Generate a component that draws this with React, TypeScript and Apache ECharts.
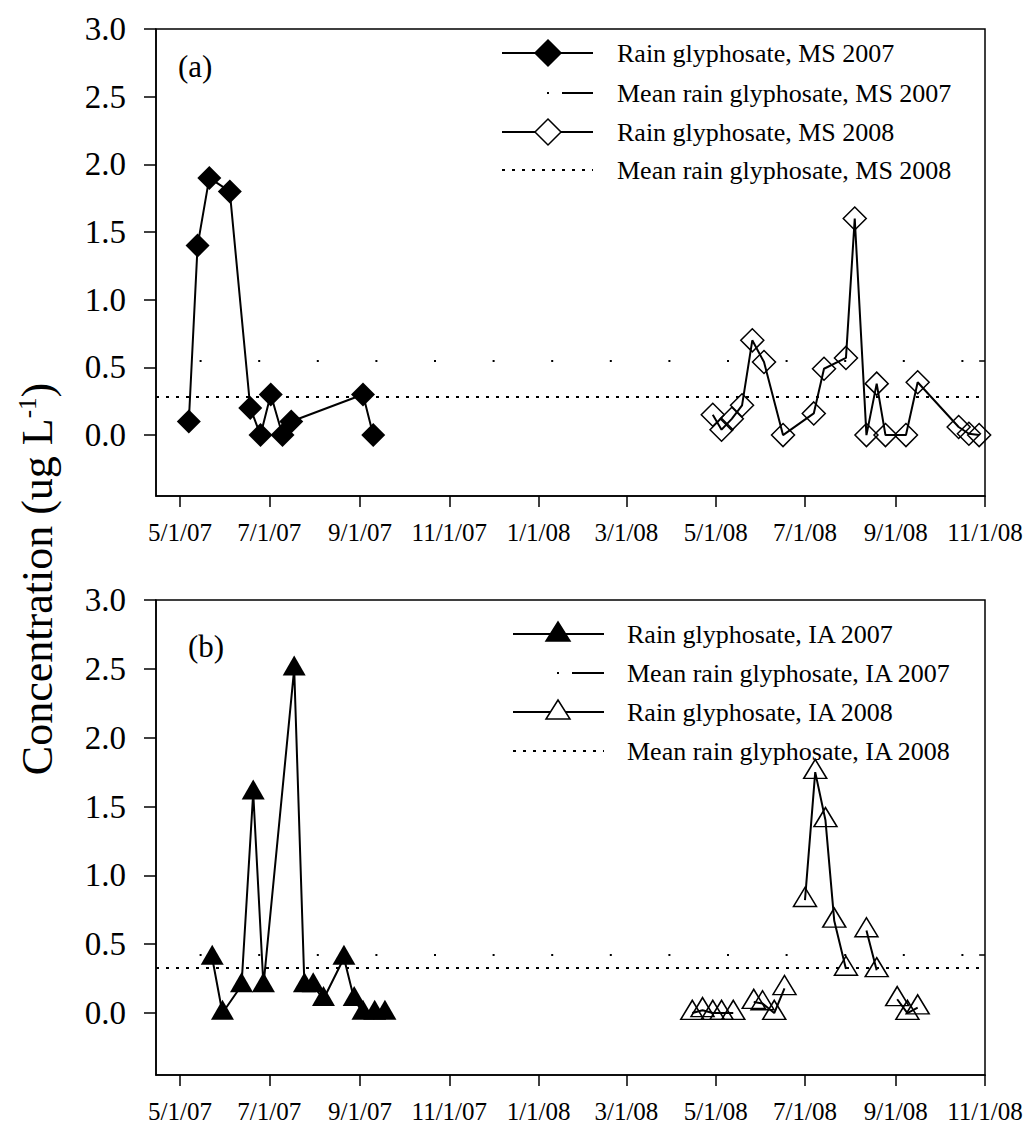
import React, { useEffect, useRef } from 'react';
import * as echarts from 'echarts';

// ---------- data ----------
const xTickDates = ['2007-05-01', '2007-07-01', '2007-09-01', '2007-11-01', '2008-01-01', '2008-03-01', '2008-05-01', '2008-07-01', '2008-09-01', '2008-11-01'];
const yTicks = [0, 0.5, 1.0, 1.5, 2.0, 2.5, 3.0];

const ms2007Dates = ['2007-05-07', '2007-05-13', '2007-05-21', '2007-06-04', '2007-06-18', '2007-06-25', '2007-07-02', '2007-07-10', '2007-07-16', '2007-09-03', '2007-09-10'];
const ms2007Values = [0.1, 1.4, 1.9, 1.8, 0.2, 0.0, 0.3, 0.0, 0.1, 0.3, 0.0];

const ms2008Dates = ['2008-04-29', '2008-05-05', '2008-05-12', '2008-05-19', '2008-05-26', '2008-06-03', '2008-06-16', '2008-07-07', '2008-07-14', '2008-07-29', '2008-08-04', '2008-08-12', '2008-08-19', '2008-08-25', '2008-09-08', '2008-09-16', '2008-10-14', '2008-10-21', '2008-10-28'];
const ms2008Values = [0.15, 0.04, 0.12, 0.22, 0.70, 0.54, 0.0, 0.16, 0.49, 0.57, 1.60, 0.0, 0.38, 0.0, 0.0, 0.39, 0.06, 0.01, 0.0];

const ia2007Dates = ['2007-05-23', '2007-05-30', '2007-06-12', '2007-06-20', '2007-06-27', '2007-07-18', '2007-07-25', '2007-07-31', '2007-08-07', '2007-08-21', '2007-08-28', '2007-09-03', '2007-09-11', '2007-09-18'];
const ia2007Values = [0.4, 0.0, 0.2, 1.6, 0.2, 2.5, 0.2, 0.2, 0.1, 0.4, 0.1, 0.0, 0.0, 0.0];

const ia2008Dates = ['2008-04-15', '2008-04-22', '2008-04-29', '2008-05-05', '2008-05-13', '2008-05-27', '2008-06-02', '2008-06-10', '2008-06-17', '2008-07-01', '2008-07-08', '2008-07-15', '2008-07-21', '2008-07-29', '2008-08-12', '2008-08-19', '2008-09-02', '2008-09-09', '2008-09-16'];
const ia2008Values = [0.0, 0.02, 0.0, 0.0, 0.0, 0.08, 0.07, 0.0, 0.18, 0.82, 1.75, 1.40, 0.67, 0.32, 0.60, 0.31, 0.10, 0.0, 0.04];
const ia2008Segments = [1, 1, 1, 1, 1, 2, 2, 2, 2, 3, 3, 3, 3, 3, 4, 4, 5, 5, 5];

const ms2007Mean = 0.55;
const ms2008Mean = 0.28;
const ia2007Mean = 0.42;
const ia2008Mean = 0.33;

const legendA = ['Rain glyphosate, MS 2007', 'Mean rain glyphosate, MS 2007', 'Rain glyphosate, MS 2008', 'Mean rain glyphosate, MS 2008'];
const legendB = ['Rain glyphosate, IA 2007', 'Mean rain glyphosate, IA 2007', 'Rain glyphosate, IA 2008', 'Mean rain glyphosate, IA 2008'];
const panelLabels = ['(a)', '(b)'];

// ---------- helpers ----------
const FONT = '"Liberation Serif", "Times New Roman", Times, serif';
const ts = (s: string) => {
  const [y, m, d] = s.split('-').map(Number);
  return Date.UTC(y, m - 1, d);
};
const X_MIN = Date.UTC(2007, 3, 14, 14);
const X_MAX = ts('2008-11-01');
const MEAN_END_START = ts('2008-10-28');
const xTicks = xTickDates.map(ts);

const fmtDate = (v: number) => {
  const d = new Date(v);
  return `${d.getUTCMonth() + 1}/${d.getUTCDate()}/${String(d.getUTCFullYear()).slice(2)}`;
};

const buildData = (dates: string[], values: number[], segments?: number[]) => {
  const out: any[] = [];
  dates.forEach((d, i) => {
    if (segments && i > 0 && segments[i] !== segments[i - 1]) out.push([ts(d), '-']);
    out.push([ts(d), values[i]]);
  });
  return out;
};

const xAxisFor = (gridIndex: number) => ({
  type: 'value',
  gridIndex,
  min: X_MIN,
  max: X_MAX,
  axisLine: { show: true, onZero: false, lineStyle: { color: '#000', width: 1.5 } },
  axisTick: { show: true, inside: false, length: 11, customValues: xTicks, lineStyle: { color: '#000', width: 1.5 } },
  axisLabel: { show: true, customValues: xTicks, formatter: fmtDate, fontFamily: FONT, fontSize: 25, color: '#000', margin: 24 },
  splitLine: { show: false },
});

const yAxisFor = (gridIndex: number) => ({
  type: 'value',
  gridIndex,
  min: -0.45,
  max: 3.0,
  axisLine: { show: true, onZero: false, lineStyle: { color: '#000', width: 1.5 } },
  axisTick: { show: true, inside: false, length: 12, customValues: yTicks, lineStyle: { color: '#000', width: 1.5 } },
  axisLabel: { show: true, customValues: yTicks, formatter: (v: number) => v.toFixed(1), fontFamily: FONT, fontSize: 33, color: '#000', margin: 30 },
  splitLine: { show: false },
});

const meanSparse = (value: number) => ({
  symbol: ['none', 'none'],
  silent: true,
  animation: false,
  label: { show: false },
  emphasis: { disabled: true },
  data: [
    { yAxis: value, lineStyle: { color: '#000', width: 2, type: [2, 56.6], dashOffset: 14.6 } },
    [
      { coord: [MEAN_END_START, value], lineStyle: { color: '#000', width: 1.5, type: 'solid' } },
      { coord: [X_MAX, value] },
    ],
  ],
});

const meanDotted = (value: number) => ({
  symbol: ['none', 'none'],
  silent: true,
  animation: false,
  label: { show: false },
  emphasis: { disabled: true },
  lineStyle: { color: '#000', width: 2, type: [3, 7] },
  data: [{ yAxis: value }],
});

const HOLLOW = 'rgba(255,255,255,0)';

const legendGraphics = (
  rows: number[],
  x1: number,
  x2: number,
  mx: number,
  tx: number,
  labels: string[],
  kind: 'diamond' | 'triangle'
) => {
  const els: any[] = [];
  const line = (y: number, extra: any = {}) => ({
    type: 'line',
    shape: { x1, y1: y, x2, y2: y },
    style: { stroke: '#000', lineWidth: 2, ...extra },
  });
  const marker = (y: number, filled: boolean) => {
    if (kind === 'diamond') {
      return {
        type: 'polygon',
        shape: { points: [[mx, y - 13], [mx + 13, y], [mx, y + 13], [mx - 13, y]] },
        style: { fill: filled ? '#000' : '#fff', stroke: '#000', lineWidth: 1.5 },
      };
    }
    return {
      type: 'polygon',
      shape: { points: [[mx, y - 12], [mx + 12, y + 7], [mx - 12, y + 7]] },
      style: { fill: filled ? '#000' : '#fff', stroke: '#000', lineWidth: 1.5 },
    };
  };
  els.push(line(rows[0]));
  els.push(marker(rows[0], true));
  els.push({ type: 'rect', shape: { x: mx - 1, y: rows[1] - 1, width: 2, height: 2 }, style: { fill: '#000' } });
  els.push({ type: 'line', shape: { x1: mx + 14, y1: rows[1], x2: x2, y2: rows[1] }, style: { stroke: '#000', lineWidth: 2 } });
  els.push(line(rows[2]));
  els.push(marker(rows[2], false));
  els.push(line(rows[3], { lineDash: [3, 7] }));
  labels.forEach((t, i) => {
    els.push({
      type: 'text',
      x: tx,
      y: rows[i],
      style: { text: t, fill: '#000', fontFamily: FONT, fontSize: 26, align: 'left', verticalAlign: 'middle' },
    });
  });
  return els;
};

export default function App() {
  const ref = useRef<HTMLDivElement>(null);

  useEffect(() => {
    if (!ref.current) return;
    const chart = echarts.init(ref.current, undefined, { renderer: 'svg' });

    const option: any = {
      animation: false,
      backgroundColor: '#fff',
      grid: [
        { left: 156, right: 43, top: 29, height: 467, show: true, borderColor: '#000', borderWidth: 1.5, backgroundColor: 'transparent' },
        { left: 156, right: 43, top: 600, height: 475, show: true, borderColor: '#000', borderWidth: 1.5, backgroundColor: 'transparent' },
      ],
      xAxis: [xAxisFor(0), xAxisFor(1)],
      yAxis: [yAxisFor(0), yAxisFor(1)],
      series: [
        {
          name: legendA[0],
          type: 'line',
          xAxisIndex: 0,
          yAxisIndex: 0,
          data: buildData(ms2007Dates, ms2007Values),
          symbol: 'diamond',
          symbolSize: 24,
          itemStyle: { color: '#000' },
          lineStyle: { color: '#000', width: 2 },
          emphasis: { disabled: true },
          markLine: meanSparse(ms2007Mean),
          z: 4,
        },
        {
          name: legendA[2],
          type: 'line',
          xAxisIndex: 0,
          yAxisIndex: 0,
          data: buildData(ms2008Dates, ms2008Values),
          symbol: 'diamond',
          symbolSize: 23,
          itemStyle: { color: HOLLOW, borderColor: '#000', borderWidth: 1.5 },
          lineStyle: { color: '#000', width: 2 },
          emphasis: { disabled: true },
          markLine: meanDotted(ms2008Mean),
          z: 3,
        },
        {
          name: legendB[0],
          type: 'line',
          xAxisIndex: 1,
          yAxisIndex: 1,
          data: buildData(ia2007Dates, ia2007Values),
          symbol: 'triangle',
          symbolSize: [23, 20],
          symbolOffset: [0, -3.3],
          itemStyle: { color: '#000' },
          lineStyle: { color: '#000', width: 2 },
          emphasis: { disabled: true },
          markLine: meanSparse(ia2007Mean),
          z: 4,
        },
        {
          name: legendB[2],
          type: 'line',
          xAxisIndex: 1,
          yAxisIndex: 1,
          data: buildData(ia2008Dates, ia2008Values, ia2008Segments),
          connectNulls: false,
          symbol: 'triangle',
          symbolSize: [23, 19],
          symbolOffset: [0, -3.2],
          itemStyle: { color: HOLLOW, borderColor: '#000', borderWidth: 1.5 },
          lineStyle: { color: '#000', width: 2 },
          emphasis: { disabled: true },
          markLine: meanDotted(ia2008Mean),
          z: 3,
        },
      ],
      graphic: [
        ...legendGraphics([53, 93, 132, 170], 502, 593, 548, 617, legendA, 'diamond'),
        ...legendGraphics([634, 673, 712, 751], 513, 604, 558, 627, legendB, 'triangle'),
        {
          type: 'text',
          x: 178,
          y: 66,
          style: { text: panelLabels[0], fill: '#000', fontFamily: FONT, fontSize: 31, align: 'left', verticalAlign: 'middle' },
        },
        {
          type: 'text',
          x: 188,
          y: 646,
          style: { text: panelLabels[1], fill: '#000', fontFamily: FONT, fontSize: 31, align: 'left', verticalAlign: 'middle' },
        },
        {
          type: 'text',
          x: 37,
          y: 579,
          rotation: Math.PI / 2,
          style: {
            text: '{m|Concentration (ug L}{s|-1}{m|)}',
            fill: '#000',
            align: 'center',
            verticalAlign: 'middle',
            rich: {
              m: { fontFamily: FONT, fontSize: 44, fill: '#000' },
              s: { fontFamily: FONT, fontSize: 25, fill: '#000', verticalAlign: 'top' },
            },
          },
        },
      ],
    };

    chart.setOption(option);
    return () => chart.dispose();
  }, []);

  return <div ref={ref} style={{ position: 'absolute', left: 0, top: 0, width: 1028, height: 1130 }} />;
}
